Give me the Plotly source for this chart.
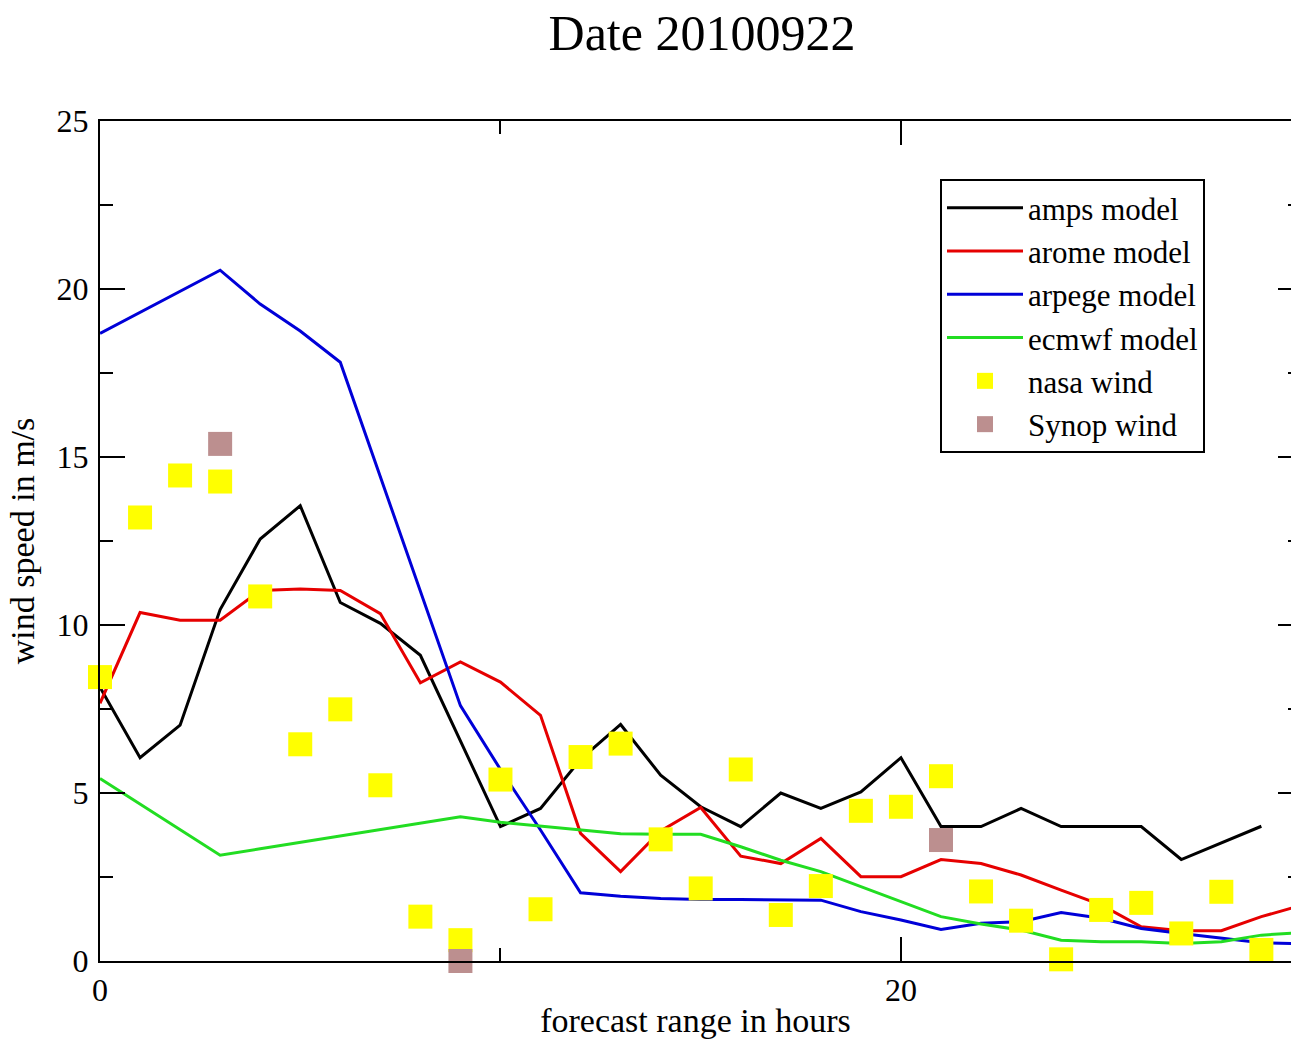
import plotly.graph_objects as go

# ---- data -------------------------------------------------------------
hours = list(range(0, 31))

amps = [8.15, 6.05, 7.02, 10.46, 12.56, 13.55, 10.67, 10.05, 9.1, 6.57,
        4.0, 4.54, 6.0, 7.04, 5.53, 4.59, 4.0, 5.0, 4.54, 5.03,
        6.05, 4.0, 4.0, 4.54, 4.0, 4.0, 4.0, 3.02, 3.52, 4.01, None]

arome = [7.67, 10.37, 10.14, 10.14, 11.03, 11.07, 11.03, 10.34, 8.28, 8.9,
         8.3, 7.31, 3.8, 2.66, 3.87, 4.57, 3.12, 2.9, 3.65, 2.51,
         2.51, 3.02, 2.9, 2.56, 2.11, 1.67, 1.02, 0.9, 0.9, 1.32, 1.66]

arpege = [18.68, 19.3, 19.93, 20.56, 19.55, 18.75, 17.82, 14.4, 11.0, 7.6,
          5.7, 3.9, 2.03, 1.93, 1.86, 1.83, 1.83, 1.83, 1.81, 1.47,
          1.22, 0.94, 1.12, 1.17, 1.44, 1.27, 0.97, 0.82, 0.67, 0.54, 0.51]

ecmwf = [5.43, 4.67, 3.9, 3.15, 3.34, 3.53, 3.72, 3.91, 4.1, 4.29,
         4.13, 4.01, 3.89, 3.79, 3.77, 3.77, 3.4, 3.0, 2.66, 2.21,
         1.75, 1.32, 1.1, 0.92, 0.62, 0.57, 0.57, 0.52, 0.57, 0.77, 0.85]

nasa = [8.45, 13.2, 14.45, 14.27, 10.85, 6.45, 7.49, 5.23, 1.32, 0.62,
        5.4, 1.54, 6.07, 6.47, 3.62, 2.16, 5.7, 1.37, 2.23, 4.47,
        4.59, 5.5, 2.07, 1.2, 0.05, 1.52, 1.73, 0.82, 2.06, 0.33, 0.62]

synop_hours = [3, 9, 21]
synop = [15.39, 0.0, 3.6]

FONT = "Liberation Serif, Times New Roman, serif"

fig = go.Figure()
line_series = [
    ("amps model", amps, "#000000"),
    ("arome model", arome, "#e60000"),
    ("arpege model", arpege, "#0000d8"),
    ("ecmwf model", ecmwf, "#22dd22"),
]
for name, vals, col in line_series:
    fig.add_trace(go.Scatter(x=hours, y=vals, mode="lines", name=name,
                             line=dict(color=col, width=3)))

fig.add_trace(go.Scatter(x=hours, y=nasa, mode="markers", name="nasa wind",
                         marker=dict(symbol="square", size=24, color="#ffff00"),
                         cliponaxis=False))
fig.add_trace(go.Scatter(x=synop_hours, y=synop, mode="markers", name="Synop wind",
                         marker=dict(symbol="square", size=24, color="#bc8f8f"),
                         cliponaxis=False))
# empty trace so the right-hand (mirror) tick axis is drawn
fig.add_trace(go.Scatter(x=[], y=[], yaxis="y2", showlegend=False, hoverinfo="skip"))

fig.update_layout(
    width=1291, height=1039,
    margin=dict(l=100, r=0, t=121, b=78),
    paper_bgcolor="white", plot_bgcolor="white",
    font=dict(family=FONT, size=32, color="black"),
    title=dict(text="Date 20100922", x=702/1291, xref="container", xanchor="center",
               y=1 - 32/1039, yref="container", yanchor="middle",
               font=dict(family=FONT, size=50, color="black")),
    showlegend=True,
    legend=dict(x=(940-100)/1191, y=(961-179)/840, xanchor="left", yanchor="top",
                bordercolor="black", borderwidth=2, bgcolor="white",
                font=dict(family=FONT, size=31, color="black"),
                tracegroupgap=0, itemwidth=76),
    xaxis=dict(range=[0, 29.74], dtick=20, tick0=0,
               ticks="inside", ticklen=24, tickwidth=2, tickcolor="black",
               minor=dict(dtick=10, ticks="inside", ticklen=13, tickwidth=2, tickcolor="black"),
               showline=True, linecolor="black", linewidth=2, mirror="ticks",
               showgrid=False, zeroline=False,
               ticklabelstandoff=0,
               title=dict(text="forecast range in hours", standoff=4,
                          font=dict(family=FONT, size=34))),
    yaxis=dict(range=[0, 25], dtick=5, tick0=0,
               ticks="inside", ticklen=25, tickwidth=2, tickcolor="black",
               minor=dict(dtick=2.5, ticks="inside", ticklen=13, tickwidth=2, tickcolor="black"),
               showline=True, linecolor="black", linewidth=2,
               showgrid=False, zeroline=False,
               ticklabelstandoff=3,
               title=dict(text="wind speed in m/s", standoff=12,
                          font=dict(family=FONT, size=34))),
    yaxis2=dict(range=[0, 25], overlaying="y", side="right", anchor="x",
                dtick=5, tick0=0, ticks="inside", ticklen=13, tickwidth=2, tickcolor="black",
                minor=dict(dtick=2.5, ticks="inside", ticklen=3, tickwidth=2, tickcolor="black"),
                showticklabels=False, showline=False, showgrid=False, zeroline=False),
)

fig.write_html("out.html")
